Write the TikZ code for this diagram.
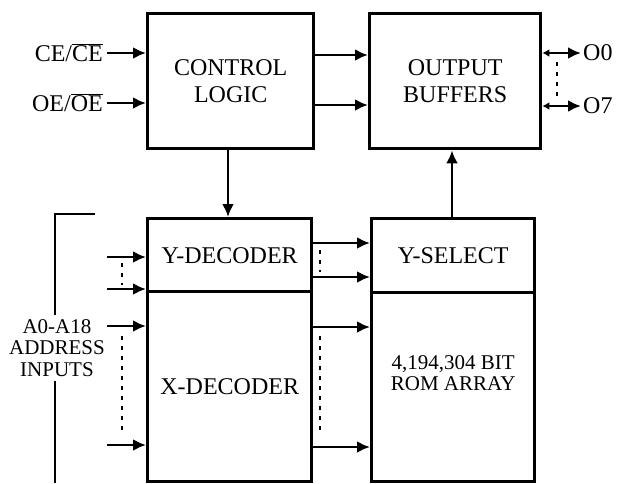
\documentclass[tikz,border=0pt]{standalone}
\usepackage{fontspec}
\setmainfont{Liberation Serif}
\usetikzlibrary{arrows.meta}
\newcommand{\negbar}[1]{$\overline{\hbox{#1}}$}
\tikzset{
    rombox/.style={draw, line width=3.4pt, inner sep=0pt, anchor=north west, align=center, font=\fontsize{24}{27}\selectfont},
    romarrow/.style={-{Latex[length=13pt,width=12pt]}, line width=2.8pt},
    rombus/.style={{Latex[length=7pt,width=8pt]}-{Latex[length=13pt,width=12pt]}, line width=2.8pt},
    romdots/.style={line width=2.8pt, dash pattern=on 4pt off 6pt},
    romlabel/.style={font=\fontsize{24}{27}\selectfont, inner sep=0pt},
    romsmall/.style={font=\fontsize{21}{21.5}\selectfont, inner sep=0pt, align=center}
}

\begin{document}
\begin{tikzpicture}[x=1pt, y=-1pt]
    \useasboundingbox (0,0) rectangle (623,483);
    % blocks
    \node[rombox, minimum width=166pt, minimum height=135pt] (ctrl) at (146,12) {CONTROL\\LOGIC};
    \node[rombox, minimum width=171pt, minimum height=135pt] (outbuf) at (368,12) {OUTPUT\\BUFFERS};
    \node[rombox, minimum width=164pt, minimum height=73pt] (ydec) at (146,217) {Y-DECODER};
    \node[rombox, minimum width=164pt, minimum height=190pt] (xdec) at (146,290) {X-DECODER};
    \node[rombox, minimum width=163pt, minimum height=74pt] (ysel) at (370,217) {Y-SELECT};
    \node[rombox, minimum width=163pt, minimum height=189pt] (rom) at (370,291) {};
    \node[romsmall] (romtxt) at ([yshift=14pt]rom.center) {4,194,304 BIT\\ROM ARRAY};

    % control inputs
    \node[romlabel, anchor=east] (celbl) at (103,53) {CE/\negbar{CE}};
    \node[romlabel, anchor=east] (oelbl) at (103,103) {OE/\negbar{OE}};
    \draw[romarrow] ([xshift=4pt]celbl.east) -- (celbl.east -| ctrl.west);
    \draw[romarrow] ([xshift=4pt]oelbl.east) -- (oelbl.east -| ctrl.west);

    % control to buffers
    \foreach \yy in {55,105}
        \draw[romarrow] (ctrl.east |- 0,\yy) -- (outbuf.west |- 0,\yy);

    % data outputs
    \node[romlabel, anchor=west] (o0) at (583,53) {O0};
    \node[romlabel, anchor=west] (o7) at (583,106) {O7};
    \draw[rombus] (outbuf.east |- o0.west) -- ([xshift=-2pt]o0.west);
    \draw[rombus] (outbuf.east |- o7.west) -- ([xshift=-2pt]o7.west);
    \draw[romdots] (557,62) -- (557,98);

    % vertical links
    \draw[romarrow] (ctrl.south -| 228,0) -- (ydec.north -| 228,0);
    \draw[romarrow] (ysel.north -| 452,0) -- (outbuf.south -| 452,0);

    % address inputs
    \foreach \yy/\nm in {257/ain1,289/ain2,326/ain3,445/ain4} {
        \coordinate (\nm) at (107,\yy);
        \draw[romarrow] (\nm) -- (\nm -| ydec.west);
    }
    \draw[romdots] (122,263) -- (122,285);
    \draw[romdots] (122,336) -- (122,434);

    % decoder to array
    \foreach \yy in {243,277}
        \draw[romarrow] (ydec.east |- 0,\yy) -- (ysel.west |- 0,\yy);
    \foreach \yy in {327,447}
        \draw[romarrow] (xdec.east |- 0,\yy) -- (rom.west |- 0,\yy);
    \draw[romdots] (320,250) -- (320,272);
    \draw[romdots] (320,336) -- (320,434);

    % address bracket
    \node[romsmall, inner sep=4pt] (addr) at (57,348) {A0-A18\\ADDRESS\\INPUTS};
    \coordinate (brtop) at (95,214);
    \coordinate (brbot) at (55,483);
    \draw[line width=2.8pt] (brtop) -| (addr.north -| brbot);
    \draw[line width=2.8pt] (addr.south -| brbot) -- (brbot);
\end{tikzpicture}
\end{document}
